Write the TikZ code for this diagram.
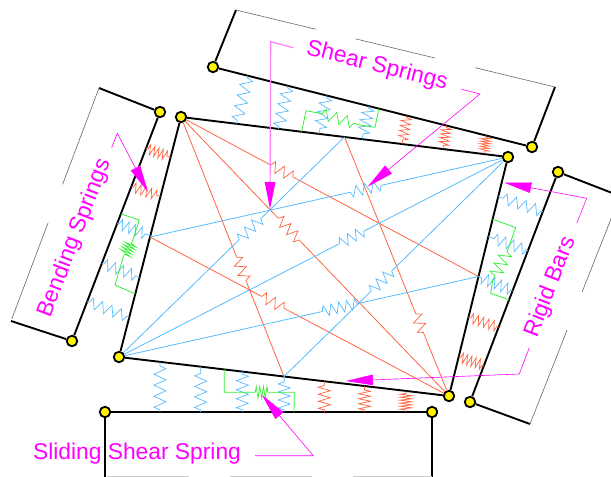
\documentclass[tikz,border=0pt]{standalone}
\usepackage{fontspec}
\setmainfont{Liberation Sans}
\usetikzlibrary{arrows.meta,decorations.pathmorphing,calc}
\definecolor{annot}{RGB}{255,0,255}
\definecolor{sprblue}{RGB}{85,187,255}
\definecolor{sprred}{RGB}{255,100,65}
\definecolor{sprgreen}{RGB}{50,240,50}
\tikzset{
	joint/.style={circle,draw=black,fill=yellow,line width=1.8pt,inner sep=0pt,minimum size=10.5pt},
	bar/.style={draw=black,line width=1.9pt},
	frameline/.style={draw=black!60,line width=0.6pt,dash pattern=on #1 off 41pt},
	spring/.style 2 args={line width=0.7pt,decorate,decoration={zigzag,segment length=#1,amplitude=#2,pre length=2pt,post length=2pt}},
	strutline/.style={line width=0.8pt},
	slide/.style={draw=sprgreen,line width=0.8pt},
	pointer/.style={draw=annot,line width=0.6pt,-{Triangle[length=27pt,width=10.5pt,color=annot]}},
	springlabel/.style={text=annot,inner sep=0pt,font=\fontsize{22.8}{25}\selectfont}
}
\begin{document}
\begin{tikzpicture}[x=1pt,y=-1pt]
		\useasboundingbox (0,0) rectangle (611,477);
		\clip (0,0) rectangle (611,477);
		\node [joint](tl) at (181,117) {};
		\node [joint](tr) at (508,157) {};
		\node [joint](br) at (449,396) {};
		\node [joint](bl) at (119,357) {};
		\node [joint](topa) at (213,67) {};
		\node [joint](topb) at (532,147) {};
		\node [joint](lefta) at (160,112) {};
		\node [joint](leftb) at (72,341) {};
		\node [joint](righta) at (558,172) {};
		\node [joint](rightb) at (470,402) {};
		\node [joint](basea) at (105,412) {};
		\node [joint](baseb) at (432,412) {};
		\coordinate (tmid) at ($(tl)!.5!(tr)$);
		\coordinate (bmid) at ($(bl)!.5!(br)$);
		\coordinate (lmid) at ($(tl)!.5!(bl)$);
		\coordinate (rmid) at ($(tr)!.5!(br)$);
		\coordinate (topc) at (236,10);
		\coordinate (topd) at (555,87);
		\coordinate (leftc) at (99,88);
		\coordinate (leftd) at (11,321);
		\coordinate (rightc) at (620,196);
		\coordinate (rightd) at (530,424);
		\coordinate (basec) at (105,480);
		\coordinate (based) at (432,480);
		\coordinate (framea) at (107,476.7);
		\coordinate (frameb) at (432,476.7);

		\draw [bar] (tl) -- (tr) -- (br) -- (bl) -- (tl);
		\draw [bar] (topc) -- (topa) -- (topb) -- (topd);
		\draw [bar] (leftc) -- (lefta) -- (leftb) -- (leftd);
		\draw [bar] (rightc) -- (righta) -- (rightb) -- (rightd);
		\draw [bar] (basec) -- (basea) -- (baseb) -- (based);
		\draw [frameline=82pt] (topc) -- (topd);
		\draw [frameline=103pt] (leftc) -- (leftd);
		\draw [frameline=101pt] (rightd) -- (rightc);
		\draw [frameline=82pt,draw=gray!40] (framea) -- (frameb);

		\foreach \from/\to/\pa/\pb/\col/\seg/\amp in {
			tl/rmid/.296/.394/sprred/10/5.5, tl/br/.358/.451/sprred/10/5.5, tl/bmid/.533/.641/sprred/10/5.5,
			lmid/br/.368/.468/sprred/10/5.5, tmid/br/.676/.776/sprred/10/5.5,
			bl/tmid/.527/.64/sprblue/10/5.5, tr/lmid/.349/.447/sprblue/9/5.5, bl/tr/.563/.64/sprblue/9/5.5,
			tr/bmid/.513/.625/sprblue/9.5/5.5, bl/rmid/.56/.671/sprblue/8/5.5}{
			\draw [strutline,draw=\col] (\from) -- ($(\from)!\pa!(\to)$);
			\draw [spring={\seg pt}{\amp pt},draw=\col] ($(\from)!\pa!(\to)$) -- ($(\from)!\pb!(\to)$);
			\draw [strutline,draw=\col] ($(\from)!\pb!(\to)$) -- (\to);
		}

		\foreach \pa/\pb/\col/\seg/\amp in {
			.109/.170/sprblue/11/6, .235/.298/sprblue/10/6, .356/.422/sprblue/9/6, .489/.554/sprblue/7.5/6,
			.608/.676/sprred/5/5, .733/.801/sprred/4/5, .856/.926/sprred/2.5/5}{
			\draw [spring={\seg pt}{\amp pt},draw=\col] ($(topa)!\pa!(topb)$) -- ($(tl)!\pb!(tr)$);
		}
		\foreach \pa/\pb/\col/\seg/\amp in {
			.168/.124/sprblue/11/6, .292/.248/sprblue/10.5/6, .42/.374/sprblue/9/6, .548/.501/sprblue/8/6,
			.671/.622/sprred/7/6, .794/.744/sprred/5/6, .92/.87/sprred/3/6}{
			\draw [spring={\seg pt}{\amp pt},draw=\col] ($(basea)!\pa!(baseb)$) -- ($(bl)!\pb!(br)$);
		}
		\foreach \pa/\pb/\col/\seg/\amp in {
			.159/.168/sprred/4.5/5, .326/.332/sprred/5.5/5,
			.486/.495/sprblue/7/5.5, .661/.668/sprblue/8.5/5.5, .828/.835/sprblue/10/5.5}{
			\draw [spring={\seg pt}{\amp pt},draw=\col] ($(lefta)!\pa!(leftb)$) -- ($(tl)!\pb!(bl)$);
		}
		\foreach \pa/\pb/\col/\seg/\amp in {
			.173/.166/sprblue/10/5.5, .342/.333/sprblue/8.5/5.5, .516/.501/sprblue/7/5.5,
			.675/.671/sprred/5.5/5, .842/.836/sprred/4.5/5}{
			\draw [spring={\seg pt}{\amp pt},draw=\col] ($(righta)!\pa!(rightb)$) -- ($(tr)!\pb!(br)$);
		}

		\coordinate (topslidea) at (320,113.3);
		\coordinate (topslideb) at (360,125);
		\draw [slide] ($(tl)!.369!(tr)$) -- (306,110.7) -- (topslidea);
		\draw [slide,spring={11pt}{5.5pt}] (topslidea) -- (topslideb);
		\draw [slide] (topslideb) -- (375,127.3) -- ($(topa)!.52!(topb)$);
		\coordinate (leftslidea) at (132.3,241.7);
		\coordinate (leftslideb) at (123.3,256.7);
		\draw [slide] ($(lefta)!.445!(leftb)$) -- (139.3,220) -- (leftslidea);
		\draw [slide,spring={2.8pt}{6pt}] (leftslidea) -- (leftslideb);
		\draw [slide] (leftslideb) -- (115,285) -- ($(tl)!.7375!(bl)$);
		\coordinate (rightslidea) at (507.7,250);
		\coordinate (rightslideb) at (492.7,280);
		\draw [slide] ($(tr)!.26!(br)$) -- (515.7,227.7) -- (rightslidea);
		\draw [slide,spring={9pt}{6.5pt}] (rightslidea) -- (rightslideb);
		\draw [slide] (rightslideb) -- (490.7,293.3) -- ($(righta)!.556!(rightb)$);
		\coordinate (baseslidea) at (253.3,392.3);
		\coordinate (baseslideb) at (270,392.3);
		\draw [slide] ($(bl)!.319!(br)$) -- (224.3,392.3) -- (baseslidea);
		\draw [slide,spring={3.6pt}{6pt}] (baseslidea) -- (baseslideb);
		\draw [slide] (baseslideb) -- (294.3,392.3) -- ($(basea)!.578!(baseb)$);

		\coordinate (bendtail) at (111.7,147.7);
		\coordinate (bendtip) at (148,192);
		\coordinate (sheartail) at (293.3,47.7);
		\coordinate (sheartip) at (270,209);
		\coordinate (sheartailb) at (461.7,89.3);
		\coordinate (sheartipb) at (367.7,186.7);
		\coordinate (rigidtail) at (576.7,223.3);
		\coordinate (rigidtip) at (504.3,182.7);
		\coordinate (rigidtailb) at (529.3,347.7);
		\coordinate (rigidtipb) at (346,381);
		\coordinate (slidetail) at (255,455.7);
		\coordinate (slidetip) at (262,395);

		\draw [pointer] (bendtail) -- (117.3,133.3) -- (bendtip);
		\draw [pointer,draw=annot!50,line width=1.2pt] (sheartail) -- (270.7,41.7) -- (sheartip);
		\draw [pointer] (sheartailb) -- (480,94) -- (sheartipb);
		\draw [pointer] (rigidtail) -- (586.7,198.3) -- (rigidtip);
		\draw [pointer] (rigidtailb) -- (519.3,374) -- (rigidtipb);
		\draw [pointer] (slidetail) -- (313.3,455.7) -- (slidetip);

		\node [springlabel,rotate=-14](shearlabel) at (377,66) {Shear Springs};
		\node [springlabel,rotate=69](bendlabel) at (75,238) {Bending Springs};
		\node [springlabel,rotate=69](rigidlabel) at (551,287) {Rigid Bars};
		\node [springlabel](slidelabel) at (137,454) {Sliding Shear Spring};
		\end{tikzpicture}
\end{document}
